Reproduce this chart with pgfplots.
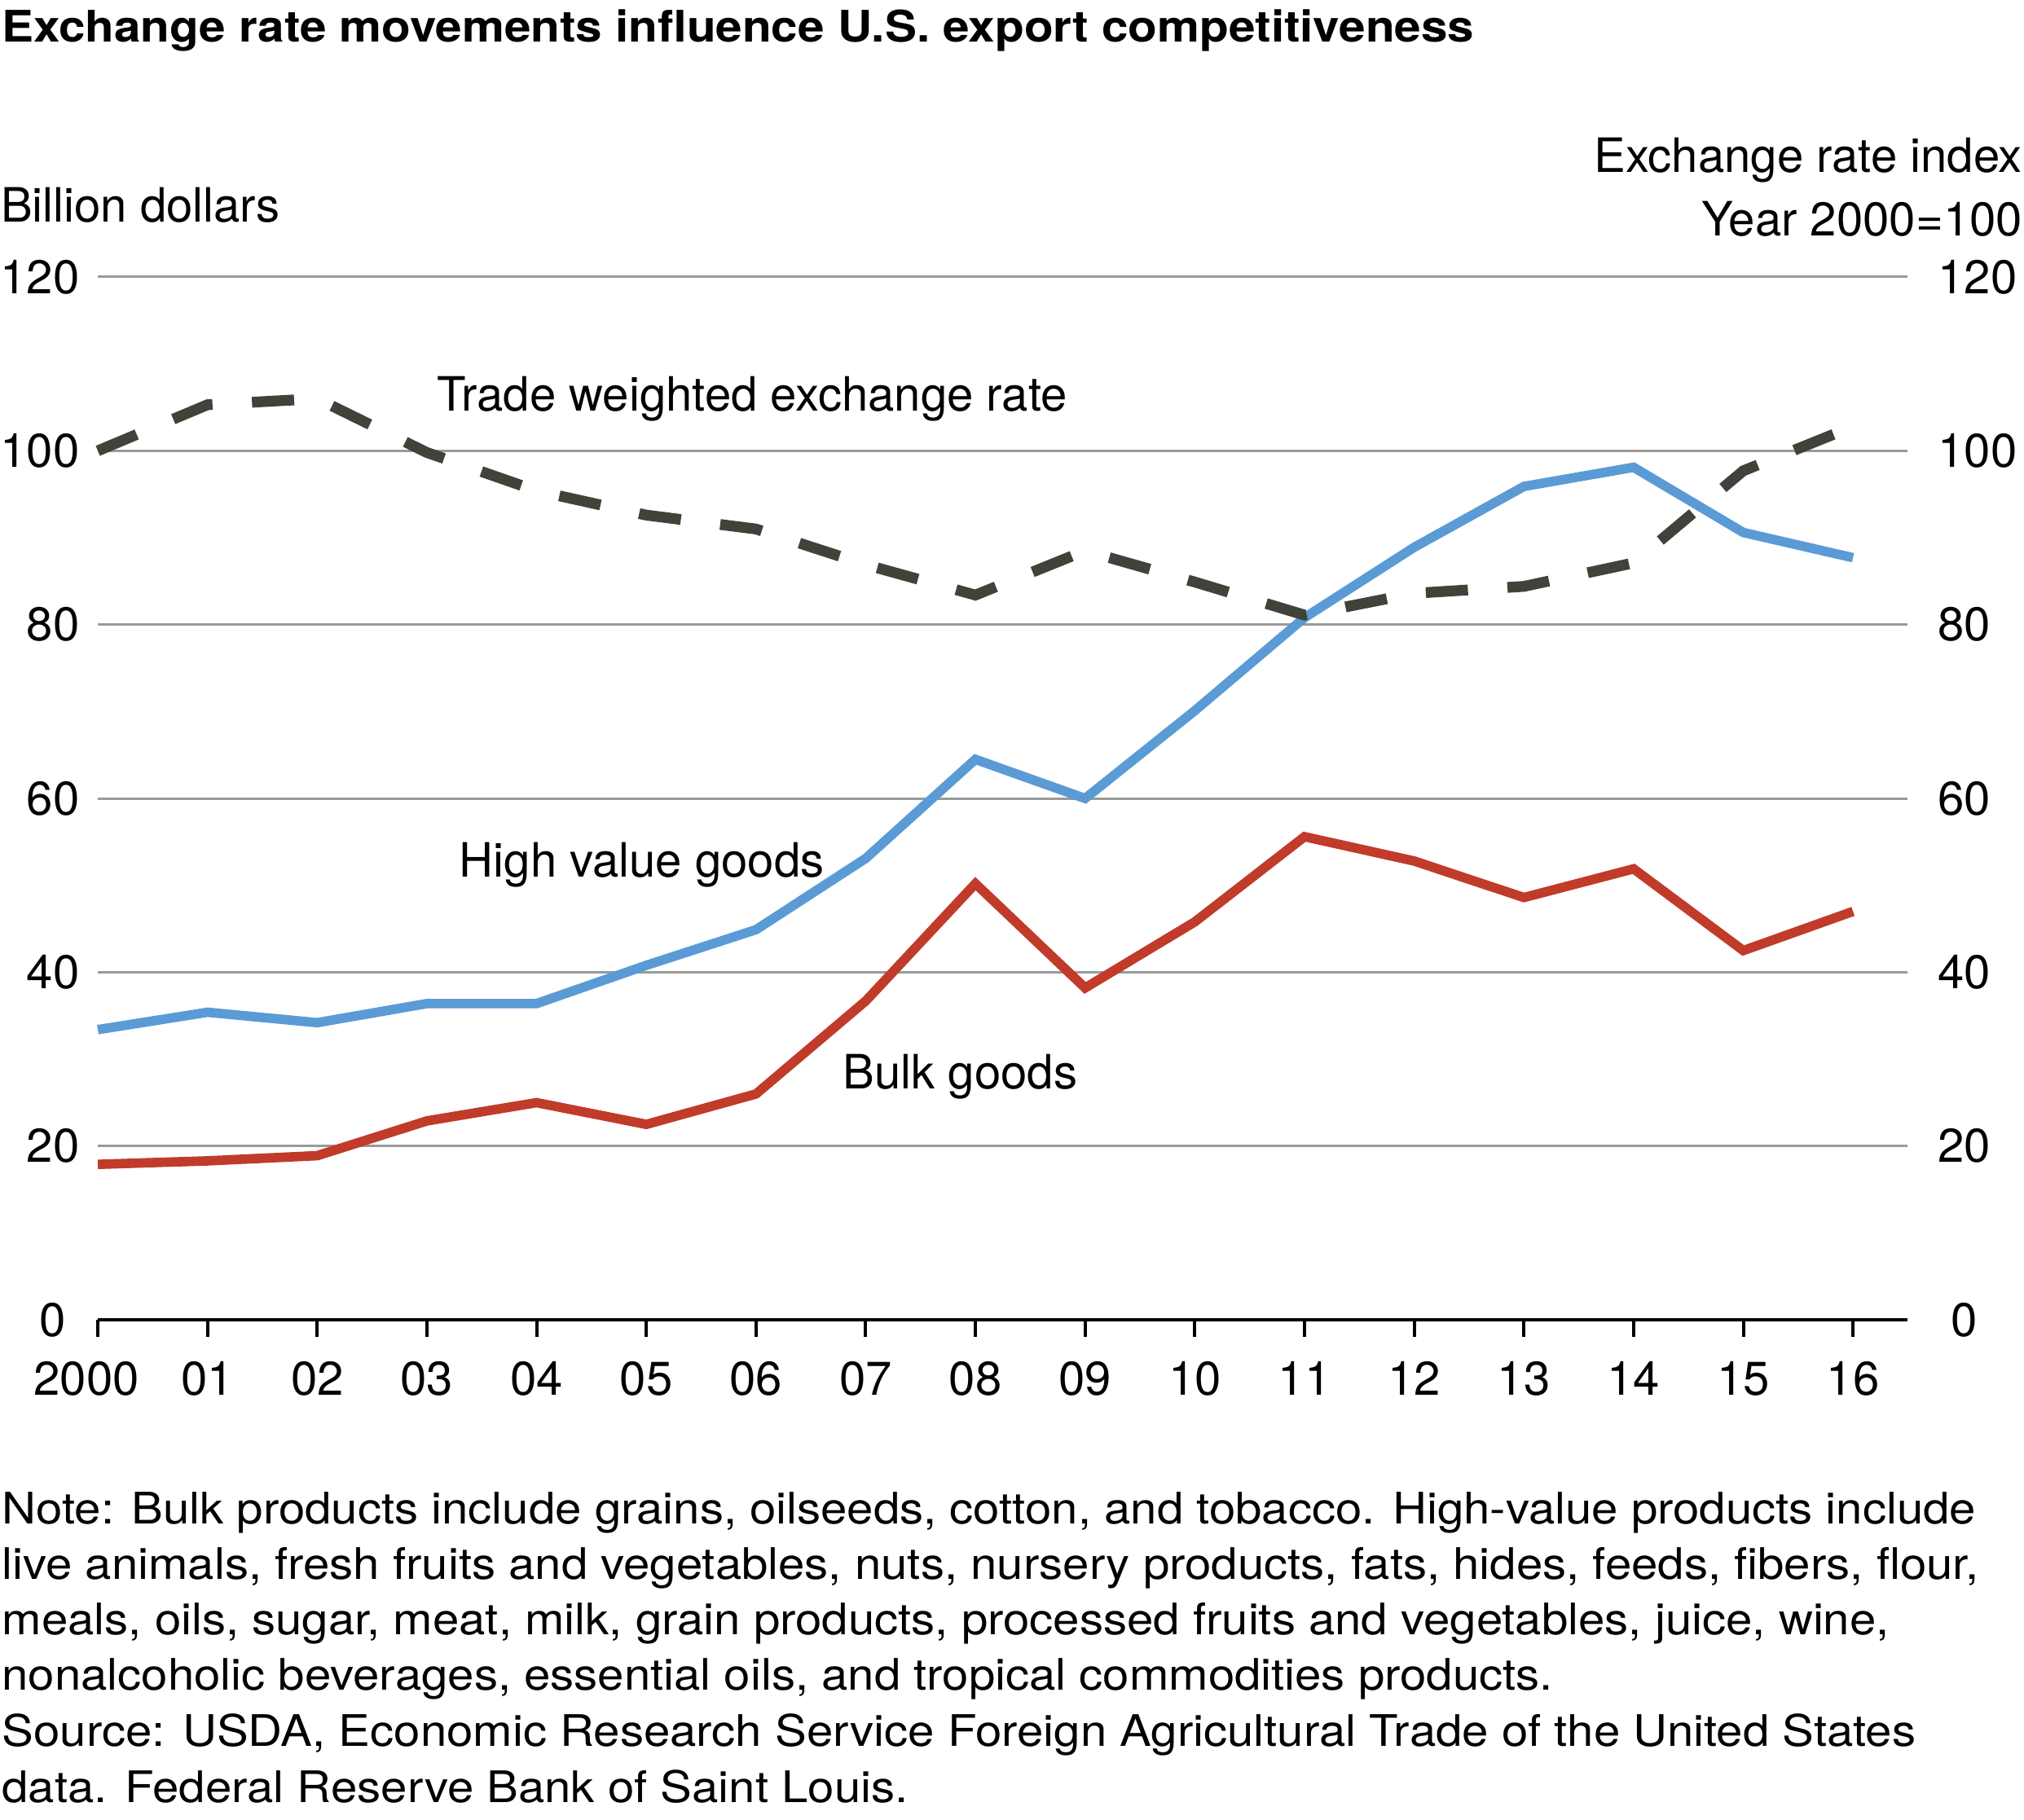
\documentclass[border=0pt]{standalone}
\usepackage{fontspec}
\setmainfont{TeX Gyre Heros}
\newfontfamily\notefont[FakeStretch=1.09]{TeX Gyre Heros}
\newfontfamily\titlefont[FakeStretch=1.095]{TeX Gyre Heros}
\usepackage{pgfplots}
\usepackage{pgfplotstable}
\pgfplotsset{compat=1.18}
\definecolor{hvblue}{HTML}{5B9BD5}
\definecolor{bulkred}{HTML}{C13B2A}
\definecolor{exdark}{HTML}{41433A}
\definecolor{gridgray}{HTML}{9A9A9A}
\newcommand\lbl{\fontsize{11}{13}\selectfont}
\newcommand\sml{\fontsize{10.1}{12.93}\selectfont}

\pgfplotstableread{
x hv bulk ex
0 33.4 17.9 100.0
1 35.4 18.3 105.3
2 34.2 18.9 106.0
3 36.4 22.9 99.8
4 36.4 25.0 95.4
5 40.8 22.5 92.6
6 44.9 26.0 91.0
7 53.1 36.7 86.9
8 64.5 50.2 83.4
9 60.0 38.2 88.5
10 70.1 45.8 84.9
11 80.8 55.6 81.1
12 88.9 52.8 83.6
13 95.9 48.6 84.4
14 98.1 51.9 87.1
15 90.6 42.5 97.7
16 87.7 47.0 102.8
}\datatable

\begin{document}
\begin{tikzpicture}
\path[use as bounding box] (0,0) rectangle (470.4pt,-423pt);
\node[anchor=base west, inner sep=0pt, font=\titlefont\sml\bfseries] at (0.2pt,-9.78pt) {Exchange rate movements influence U.S. export competitiveness};
\node[anchor=base west, inner sep=0pt, font=\lbl] at (0pt,-51.63pt) {Billion dollars};
\node[anchor=base east, inner sep=0pt, font=\lbl] at (470.2pt,-40.08pt) {Exchange rate index};
\node[anchor=base east, inner sep=0pt, font=\lbl] at (470.2pt,-54.75pt) {Year 2000=100};

\begin{axis}[
  at={(22.74pt,-306.81pt)}, anchor=south west,
  scale only axis, width=420.66pt, height=242.43pt,
  xmin=0, xmax=16.5, ymin=0, ymax=120,
  clip=false,
  axis x line*=bottom, axis y line*=left,
  y axis line style={draw=none},
  x axis line style={line width=0.76pt, black, -},
  xtick={0,...,16},
  xticklabels={\hspace*{-5.3pt}2000,01,02,03,04,05,06,07,08,09,10,11,12,13,14,15,16},
  xticklabel style={anchor=base, inner sep=0pt, yshift=-13.55pt, font=\lbl},
  tick align=outside, major tick length=4pt,
  xtick style={line width=0.76pt, black},
  ytick={0,20,...,120},
  yticklabels={\makebox[1.112em]{0},20,40,60,80,100,120},
  ytick style={draw=none},
  yticklabel style={anchor=east, inner sep=0pt, xshift=-0.1pt, font=\lbl},
  ymajorgrids, major grid style={gridgray, line width=0.57pt},
]
\addplot[hvblue, line width=2.2pt] table[x=x, y=hv] {\datatable};
\addplot[bulkred, line width=2.2pt] table[x=x, y=bulk] {\datatable};
\end{axis}

\begin{axis}[
  at={(22.74pt,-306.81pt)}, anchor=south west,
  scale only axis, width=420.66pt, height=242.43pt,
  xmin=0, xmax=16.5, ymin=0, ymax=120,
  clip=false,
  axis x line=none, axis y line*=right,
  y axis line style={draw=none},
  ytick={0,20,...,120},
  yticklabels={\makebox[1.112em]{0},20,40,60,80,100,120},
  ytick style={draw=none},
  yticklabel style={anchor=west, inner sep=0pt, xshift=6.8pt, font=\lbl},
]
\addplot[exdark, line width=2.5pt, dash pattern=on 9.8pt off 9.2pt] table[x=x, y=ex] {\datatable};
\node[anchor=base west, inner sep=0pt, font=\lbl] at (axis cs:3.083,104.6) {Trade weighted exchange rate};
\node[anchor=base west, inner sep=0pt, font=\lbl] at (axis cs:3.289,50.94) {High value goods};
\node[anchor=base west, inner sep=0pt, font=\lbl] at (axis cs:6.786,26.6) {Bulk goods};
\end{axis}

\begin{scope}[every node/.style={anchor=base west, inner sep=0pt, font=\notefont\sml}]
\node at (0.3pt,-354.18pt) {Note: Bulk products include grains, oilseeds, cotton, and tobacco. High-value products include};
\node at (0.3pt,-367.11pt) {live animals, fresh fruits and vegetables, nuts, nursery products, fats, hides, feeds, fibers, flour,};
\node at (0.3pt,-379.92pt) {meals, oils, sugar, meat, milk, grain products, processed fruits and vegetables, juice, wine,};
\node at (0.3pt,-392.79pt) {nonalcoholic beverages, essential oils, and tropical commodities products.};
\node at (0.3pt,-405.93pt) {Source: USDA, Economic Research Service Foreign Agricultural Trade of the United States};
\node at (0.3pt,-418.89pt) {data. Federal Reserve Bank of Saint Louis.};
\end{scope}
\end{tikzpicture}
\end{document}
